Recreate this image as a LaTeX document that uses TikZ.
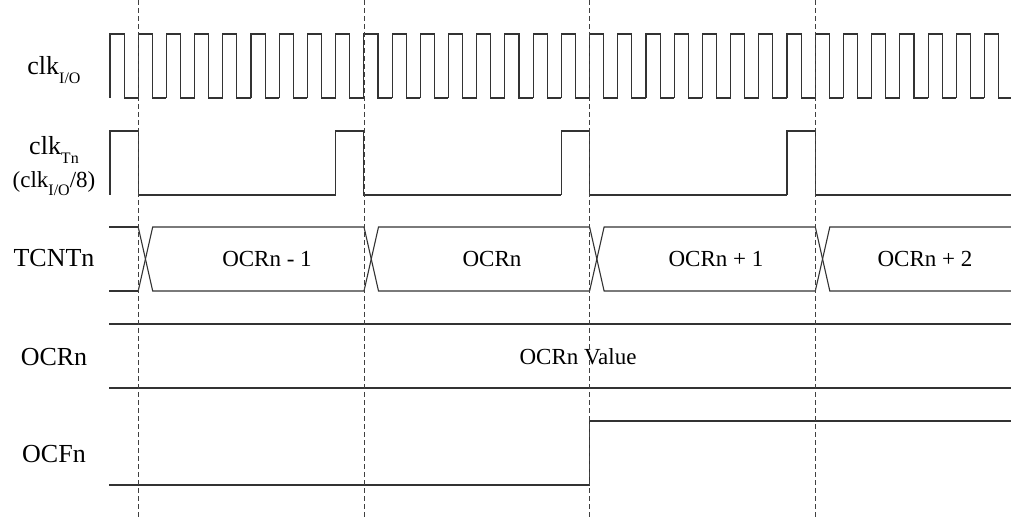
\documentclass[tikz,border=0pt]{standalone}
\usepackage{fontspec}
\setmainfont{Liberation Serif}
\newcommand{\lblfont}{\fontsize{26}{28}\selectfont}
\newcommand{\busfont}{\fontsize{23}{25}\selectfont}
\newcommand{\mysub}[1]{\raisebox{-0.32em}{\fontsize{16}{16}\selectfont #1}}
\tikzset{
  wave/.style={draw=black!80, line width=1.1pt, line join=miter},
  guide/.style={draw=black!75, line width=0.8pt, dash pattern=on 5pt off 3pt},
  lbl/.style={anchor=base, inner sep=0pt, font=\lblfont},
  buslbl/.style={anchor=base, inner sep=0pt, font=\busfont},
}
\begin{document}
\begin{tikzpicture}[x=1pt, y=-1pt]
\useasboundingbox (0,0) rectangle (1011,518);
\def\xo{109.97}
\def\P{28.21}
% clk I/O
\foreach \k in {0,...,31}{
  \pgfmathsetmacro{\xa}{\xo+\k*\P}
  \pgfmathsetmacro{\xb}{\xo+\k*\P+\P/2}
  \pgfmathsetmacro{\xc}{min(\xo+(\k+1)*\P,1011)}
  \draw[wave] (\xa,98) -- (\xa,34) -- (\xb,34) -- (\xb,98) -- (\xc,98);
}
% clk Tn
\foreach \k in {0,...,3}{
  \pgfmathsetmacro{\xa}{\xo+8*\k*\P}
  \pgfmathsetmacro{\xb}{\xo+(8*\k+1)*\P}
  \pgfmathsetmacro{\xc}{min(\xo+(8*\k+8)*\P,1011)}
  \draw[wave] (\xa,195) -- (\xa,131) -- (\xb,131) -- (\xb,195) -- (\xc,195);
}
% TCNTn bus
\draw[wave] (109,227) -- (138.2,227);
\draw[wave] (109,291) -- (138.2,291);
\foreach \a/\b in {138.2/364, 364/589.6, 589.6/815.3}{
  \draw[wave] (\a,227) -- (\a+14.5,291) -- (\b,291);
  \draw[wave] (\a,291) -- (\a+14.5,227) -- (\b,227);
}
\draw[wave] (815.3,227) -- (829.8,291) -- (1011,291);
\draw[wave] (815.3,291) -- (829.8,227) -- (1011,227);
% OCRn bus
\draw[wave] (109,324) -- (1011,324);
\draw[wave] (109,388) -- (1011,388);
% OCFn
\draw[wave] (109,485) -- (589.6,485) -- (589.6,421) -- (1011,421);
% guides
\foreach \x in {138.2,364,589.6,815.3}{
  \draw[guide] (\x,0) -- (\x,518);
}
% left labels
\node[lbl] (lclkio) at (54,75) {clk\mysub{I/O}};
\node[lbl] (lclktn) at (54,155) {clk\mysub{Tn}};
\node[lbl, font=\fontsize{23}{25}\selectfont] (lclkdiv) at (54,188) {(clk\mysub{I/O}/8)};
\node[lbl] (ltcnt) at (54,267) {TCNTn};
\node[lbl] (locr) at (54,365) {OCRn};
\node[lbl] (locf) at (54,462) {OCFn};
% bus labels
\node[buslbl] (v1) at (267,267) {OCRn - 1};
\node[buslbl] (v2) at (492,267) {OCRn};
\node[buslbl] (v3) at (716,267) {OCRn + 1};
\node[buslbl] (v4) at (925,267) {OCRn + 2};
\node[buslbl] (vocr) at (578,364) {OCRn Value};
\end{tikzpicture}
\end{document}
